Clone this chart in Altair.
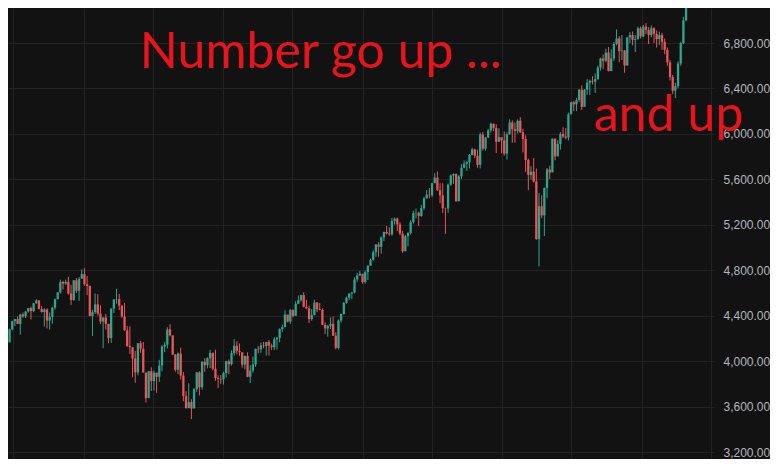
import altair as alt
import pandas as pd

# ---- weekly candles ----
first_open = 4248
closes = [
    # 2021
    4166, 4281, 4352, 4370, 4327, 4411, 4395, 4437, 4468, 4441, 4509, 4535, 4459, 4433, 4455,
    4357, 4391, 4471, 4545, 4605, 4697, 4683, 4698, 4595, 4538, 4712, 4620, 4725, 4766,
    # 2022
    4677, 4662, 4398, 4432, 4500, 4419, 4349, 4385, 4329, 4204, 4463, 4543, 4546,
    4488, 4393, 4272, 4132, 4123, 4024, 3901, 4158, 4109, 3901, 3675, 3912, 3825,
    3899, 3863, 3962, 4130, 4145, 4280, 4228, 4058, 3924, 4067, 3873, 3693, 3586,
    3640, 3583, 3753, 3901, 3771, 3993, 3965, 4026, 4072, 3934, 3852, 3845, 3840,
    # 2023
    3895, 3999, 3973, 4071, 4136, 4090, 4079, 3970, 4046, 3862, 3917, 3971, 4109,
    4105, 4138, 4133, 4169, 4136, 4124, 4192, 4205, 4282, 4299, 4410, 4348, 4450,
    4399, 4505, 4536, 4582, 4478, 4464, 4370, 4406, 4516, 4457, 4450, 4320, 4288,
    4309, 4328, 4224, 4117, 4358, 4415, 4514, 4559, 4595, 4604, 4719, 4754, 4770,
    # 2024
    4697, 4784, 4840, 4891, 4959, 5027, 5006, 5089, 5137, 5124, 5117, 5234, 5254,
    5204, 5123, 4967, 5100, 5128, 5223, 5303, 5305, 5278, 5347, 5432, 5465, 5460,
    5567, 5615, 5505, 5459, 5346, 5344, 5554, 5634, 5648, 5408, 5626, 5703, 5738, 5751,
    5815, 5864, 5808, 5728, 5995, 5870, 5969, 6032, 6090, 6051, 5931, 5971, 5942,
    # 2025
    5827, 5997, 6101, 6041, 6026, 6115, 6013, 5955, 5770, 5639, 5668, 5581, 5074,
    5363, 5283, 5525, 5687, 5660, 5958, 5802, 5912, 6000, 5977, 5968, 6173, 6279,
    6260, 6297, 6389, 6238, 6389, 6450, 6467, 6460, 6482, 6584, 6664, 6644, 6716,
    6553, 6664, 6792, 6840, 6728, 6734, 6602, 6849, 6870, 6827, 6834, 6930, 6858,
    # 2026
    6944, 6915, 6870, 6930, 6880, 6835, 6870, 6810, 6740, 6630, 6500, 6380, 6420,
    6620, 6800, 7000, 7210,
]
highs = [
    # 2021
    4257, 4286, 4356, 4372, 4393, 4416, 4429, 4441, 4469, 4480, 4513, 4545, 4535, 4486, 4465,
    4466, 4429, 4475, 4552, 4608, 4718, 4708, 4718, 4743, 4672, 4713, 4731, 4740, 4808,
    # 2022
    4818, 4749, 4665, 4453, 4595, 4590, 4490, 4386, 4416, 4327, 4465, 4546, 4637,
    4593, 4490, 4513, 4309, 4307, 4081, 4091, 4160, 4177, 4169, 3838, 3914, 3946,
    3918, 3880, 4012, 4140, 4167, 4299, 4325, 4203, 4062, 4077, 4119, 3906, 3736,
    3806, 3666, 3762, 3905, 3911, 4001, 4028, 4034, 4100, 4077, 4101, 3876, 3878,
    # 2023
    3907, 4004, 4015, 4095, 4195, 4176, 4156, 4050, 4049, 4078, 3964, 4040, 4110,
    4133, 4164, 4170, 4171, 4186, 4154, 4212, 4213, 4290, 4322, 4448, 4400, 4458,
    4456, 4528, 4578, 4583, 4607, 4540, 4490, 4458, 4541, 4520, 4511, 4464, 4341,
    4320, 4385, 4394, 4255, 4367, 4418, 4521, 4568, 4597, 4609, 4738, 4778, 4793,
    # 2024
    4754, 4798, 4842, 4903, 4976, 5030, 5048, 5098, 5140, 5189, 5179, 5262, 5265,
    5264, 5222, 5147, 5111, 5139, 5240, 5325, 5342, 5315, 5376, 5447, 5506, 5524,
    5570, 5655, 5670, 5566, 5566, 5351, 5563, 5643, 5651, 5651, 5636, 5734, 5767, 5765,
    5822, 5878, 5869, 5862, 6012, 6017, 5972, 6044, 6099, 6088, 6085, 6049, 5966,
    # 2025
    6021, 6014, 6128, 6120, 6101, 6127, 6147, 6043, 5987, 5783, 5716, 5787, 5695,
    5481, 5460, 5528, 5700, 5720, 5959, 5960, 5944, 6016, 6059, 6051, 6187, 6284,
    6290, 6315, 6395, 6427, 6395, 6481, 6478, 6508, 6532, 6600, 6671, 6699, 6750,
    6764, 6744, 6808, 6920, 6860, 6870, 6738, 6853, 6895, 6901, 6870, 6945, 6945,
    # 2026
    6960, 6975, 6940, 6955, 6940, 6910, 6900, 6890, 6840, 6760, 6650, 6520, 6450,
    6640, 6810, 7030, 7230,
]
lows = [
    # 2021
    4164, 4165, 4271, 4310, 4326, 4233, 4382, 4380, 4426, 4367, 4431, 4507, 4456, 4427, 4305,
    4288, 4278, 4329, 4453, 4545, 4595, 4630, 4672, 4586, 4495, 4532, 4600, 4531, 4733,
    # 2022
    4662, 4582, 4395, 4222, 4415, 4401, 4327, 4114, 4279, 4157, 4161, 4424, 4506,
    4450, 4381, 4267, 4128, 4063, 3859, 3810, 3875, 4074, 3900, 3637, 3705, 3738,
    3742, 3722, 3818, 3910, 4079, 4112, 4218, 4057, 3907, 3886, 3838, 3647, 3584,
    3591, 3491, 3590, 3730, 3698, 3749, 3907, 3937, 3939, 3919, 3828, 3764, 3800,
    # 2023
    3794, 3857, 3885, 3961, 4048, 4060, 4047, 3943, 3928, 3859, 3808, 3899, 3951,
    4069, 4073, 4113, 4049, 4049, 4099, 4098, 4103, 4166, 4258, 4328, 4341, 4328,
    4385, 4403, 4502, 4524, 4474, 4457, 4335, 4356, 4403, 4431, 4447, 4317, 4238,
    4216, 4283, 4223, 4104, 4103, 4340, 4410, 4506, 4537, 4546, 4597, 4698, 4751,
    # 2024
    4682, 4682, 4714, 4842, 4886, 4918, 4920, 4946, 5057, 5114, 5104, 5104, 5203,
    5146, 5108, 4953, 4969, 5011, 5114, 5211, 5257, 5191, 5271, 5331, 5432, 5433,
    5445, 5565, 5497, 5390, 5305, 5120, 5306, 5542, 5560, 5402, 5406, 5604, 5698, 5674,
    5696, 5812, 5786, 5702, 5696, 5853, 5853, 5963, 6012, 6026, 5832, 5932, 5829,
    # 2025
    5809, 5773, 5994, 5923, 5923, 6003, 6008, 5837, 5666, 5505, 5599, 5573, 5069,
    4835, 5258, 5101, 5434, 5603, 5772, 5768, 5838, 5861, 5963, 5952, 5943, 6172,
    6201, 6201, 6281, 6212, 6247, 6346, 6343, 6436, 6360, 6476, 6558, 6570, 6631,
    6550, 6571, 6641, 6780, 6631, 6650, 6538, 6600, 6800, 6780, 6720, 6830, 6840,
    # 2026
    6850, 6880, 6790, 6850, 6800, 6760, 6780, 6740, 6700, 6600, 6470, 6350, 6315,
    6400, 6600, 6790, 6990,
]

price_ticks = [3200, 3600, 4000, 4400, 4800, 5200, 5600, 6000, 6400, 6800]
annot_dates = ["2022-05-28", "2025-08-29"]
annot_prices = [6579, 6030]
annot_texts = ["Number go up ...", "and up"]

assert len(closes) == len(highs) == len(lows)

dates = pd.date_range("2021-06-14", periods=len(closes), freq="W-MON")
opens = [first_open] + closes[:-1]
df = pd.DataFrame({"date": dates, "open": opens, "high": highs, "low": lows, "close": closes})
df["dir"] = ["up" if c >= o else "down" for o, c in zip(opens, closes)]

ann = pd.DataFrame({"date": pd.to_datetime(annot_dates), "price": annot_prices, "label": annot_texts})

grid_dates = [alt.DateTime(year=2021, month=7, date=1)] + [
    alt.DateTime(year=y, month=m, date=1) for y in range(2022, 2027) for m in (1, 7)
]

x_scale = alt.Scale(domain=[alt.DateTime(year=2021, month=6, date=30),
                            alt.DateTime(year=2026, month=6, date=26)])
y_scale = alt.Scale(domain=[3148, 7108], nice=False, zero=False)

grid_color = "#232323"

x_enc = alt.X("date:T", scale=x_scale,
              axis=alt.Axis(values=grid_dates, labels=False, ticks=False, domain=False,
                            grid=True, gridColor=grid_color, title=None))
y_axis = alt.Axis(orient="right", values=price_ticks, format=",.2f", labelColor="#b4b6bc",
                  labelFont="Liberation Sans", labelFontSize=12, labelPadding=9,
                  ticks=False, domain=False, grid=True, gridColor=grid_color, title=None)

color = alt.Color("dir:N", scale=alt.Scale(domain=["up", "down"], range=["#2ea58f", "#ea5558"]),
                  legend=None)

wicks = alt.Chart(df).mark_rule(strokeWidth=1, clip=True).encode(
    x=x_enc,
    y=alt.Y("low:Q", scale=y_scale, axis=y_axis),
    y2="high:Q",
    color=color,
)
bodies = alt.Chart(df).mark_bar(size=2.3, clip=True).encode(
    x="date:T",
    y="open:Q",
    y2="close:Q",
    color=color,
)
texts = alt.Chart(ann).mark_text(align="left", baseline="alphabetic", font="Lato",
                                 fontSize=50, color="#e8141b").encode(
    x="date:T",
    y="price:Q",
    text="label:N",
)

chart = alt.layer(wicks, bodies, texts).properties(
    width=706, height=450, background="#121212", padding=0
).configure_view(stroke=None)

chart.save("out.html", embed_options={"renderer": "svg", "actions": False})
